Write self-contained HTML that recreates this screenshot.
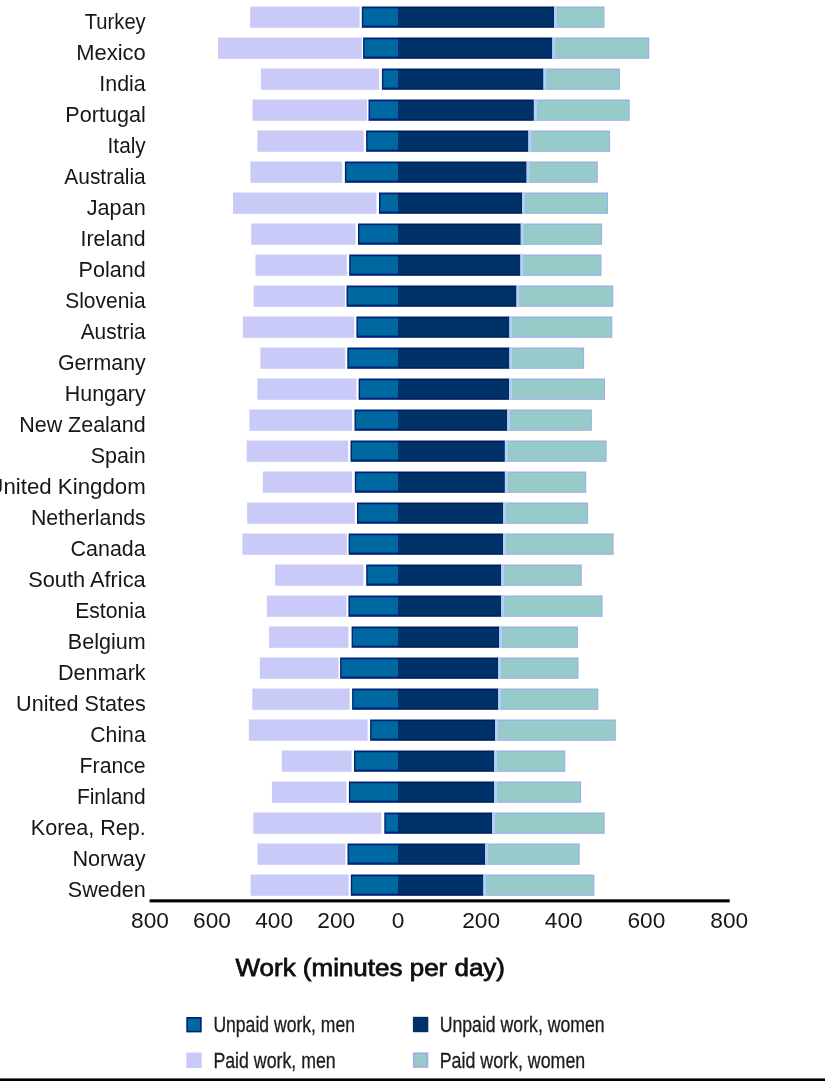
<!DOCTYPE html>
<html lang="en">
<head>
<meta charset="utf-8">
<title>Work (minutes per day)</title>
<style>
html,body{margin:0;padding:0;background:#fff;}
body{width:825px;height:1081px;overflow:hidden;position:relative;font-family:"Liberation Sans",sans-serif;}
svg{position:absolute;left:0;top:0;display:block;}
text{font-family:"Liberation Sans",sans-serif;}
.lab{font-size:21.6px;fill:#171717;text-anchor:end;}
.tick{font-size:22.7px;fill:#171717;text-anchor:middle;}
.ttl{font-size:24.8px;fill:#111;stroke:#111;stroke-width:0.8px;}
.leg{font-size:21.2px;fill:#1c1c1c;stroke:#1c1c1c;stroke-width:0.3px;}
</style>
</head>
<body>
<svg width="825" height="1081" viewBox="0 0 825 1081">
<defs><filter id="soft" x="-20" y="-20" width="865" height="1121" filterUnits="userSpaceOnUse"><feGaussianBlur stdDeviation="0.55"/></filter></defs>
<rect x="-20" y="-20" width="865" height="1121" fill="#ffffff"/>
<g filter="url(#soft)">
<rect x="-20" y="-20" width="865" height="1121" fill="#ffffff"/>

<g>
<rect x="250.2" y="6.5" width="109.4" height="21.3" fill="#cacaf9"/>
<rect x="361.8" y="6.5" width="36.2" height="21.3" fill="#00247a"/>
<rect x="363.2" y="8.3" width="34.8" height="17.3" fill="#0567a0"/>
<rect x="398.0" y="6.5" width="156.0" height="21.3" fill="#001f5e"/>
<rect x="398.0" y="8.1" width="155.4" height="18.1" fill="#00316b"/>
<rect x="554.0" y="6.5" width="50.5" height="21.3" fill="#9dade6"/>
<rect x="554.0" y="6.8" width="3.0" height="20.7" fill="#b2d0f6"/>
<rect x="557.2" y="7.7" width="46.3" height="19.0" fill="#96cbca"/>
<text class="lab" x="145.7" y="28.5" textLength="60.9" lengthAdjust="spacingAndGlyphs">Turkey</text>
</g>
<g>
<rect x="218.0" y="37.5" width="143.8" height="21.3" fill="#cacaf9"/>
<rect x="363.1" y="37.5" width="34.9" height="21.3" fill="#00247a"/>
<rect x="364.5" y="39.3" width="33.5" height="17.3" fill="#0567a0"/>
<rect x="398.0" y="37.5" width="154.4" height="21.3" fill="#001f5e"/>
<rect x="398.0" y="39.1" width="153.8" height="18.1" fill="#00316b"/>
<rect x="552.4" y="37.5" width="96.9" height="21.3" fill="#9dade6"/>
<rect x="552.4" y="37.8" width="3.0" height="20.7" fill="#b2d0f6"/>
<rect x="555.6" y="38.7" width="92.7" height="19.0" fill="#96cbca"/>
<text class="lab" x="145.7" y="59.5" textLength="69.5" lengthAdjust="spacingAndGlyphs">Mexico</text>
</g>
<g>
<rect x="260.9" y="68.5" width="118.3" height="21.3" fill="#cacaf9"/>
<rect x="381.9" y="68.5" width="16.1" height="21.3" fill="#00247a"/>
<rect x="383.3" y="70.3" width="14.7" height="17.3" fill="#0567a0"/>
<rect x="398.0" y="68.5" width="145.6" height="21.3" fill="#001f5e"/>
<rect x="398.0" y="70.1" width="145.0" height="18.1" fill="#00316b"/>
<rect x="543.6" y="68.5" width="76.4" height="21.3" fill="#9dade6"/>
<rect x="543.6" y="68.8" width="3.0" height="20.7" fill="#b2d0f6"/>
<rect x="546.8" y="69.7" width="72.2" height="19.0" fill="#96cbca"/>
<text class="lab" x="145.7" y="90.5" textLength="46.4" lengthAdjust="spacingAndGlyphs">India</text>
</g>
<g>
<rect x="252.6" y="99.5" width="114.3" height="21.3" fill="#cacaf9"/>
<rect x="368.5" y="99.5" width="29.5" height="21.3" fill="#00247a"/>
<rect x="369.9" y="101.3" width="28.1" height="17.3" fill="#0567a0"/>
<rect x="398.0" y="99.5" width="135.9" height="21.3" fill="#001f5e"/>
<rect x="398.0" y="101.1" width="135.3" height="18.1" fill="#00316b"/>
<rect x="533.9" y="99.5" width="95.8" height="21.3" fill="#9dade6"/>
<rect x="533.9" y="99.8" width="3.0" height="20.7" fill="#b2d0f6"/>
<rect x="537.1" y="100.7" width="91.6" height="19.0" fill="#96cbca"/>
<text class="lab" x="145.7" y="121.5" textLength="80.4" lengthAdjust="spacingAndGlyphs">Portugal</text>
</g>
<g>
<rect x="257.4" y="130.5" width="106.3" height="21.3" fill="#cacaf9"/>
<rect x="366.1" y="130.5" width="31.9" height="21.3" fill="#00247a"/>
<rect x="367.5" y="132.3" width="30.5" height="17.3" fill="#0567a0"/>
<rect x="398.0" y="130.5" width="130.5" height="21.3" fill="#001f5e"/>
<rect x="398.0" y="132.1" width="129.9" height="18.1" fill="#00316b"/>
<rect x="528.5" y="130.5" width="81.6" height="21.3" fill="#9dade6"/>
<rect x="528.5" y="130.8" width="3.0" height="20.7" fill="#b2d0f6"/>
<rect x="531.7" y="131.7" width="77.4" height="19.0" fill="#96cbca"/>
<text class="lab" x="145.7" y="152.5" textLength="38.1" lengthAdjust="spacingAndGlyphs">Italy</text>
</g>
<g>
<rect x="250.4" y="161.5" width="91.8" height="21.3" fill="#cacaf9"/>
<rect x="344.9" y="161.5" width="53.1" height="21.3" fill="#00247a"/>
<rect x="346.3" y="163.3" width="51.7" height="17.3" fill="#0567a0"/>
<rect x="398.0" y="161.5" width="128.7" height="21.3" fill="#001f5e"/>
<rect x="398.0" y="163.1" width="128.1" height="18.1" fill="#00316b"/>
<rect x="526.7" y="161.5" width="71.1" height="21.3" fill="#9dade6"/>
<rect x="526.7" y="161.8" width="3.0" height="20.7" fill="#b2d0f6"/>
<rect x="529.9" y="162.7" width="66.9" height="19.0" fill="#96cbca"/>
<text class="lab" x="145.7" y="183.5" textLength="81.4" lengthAdjust="spacingAndGlyphs">Australia</text>
</g>
<g>
<rect x="233.0" y="192.5" width="143.5" height="21.3" fill="#cacaf9"/>
<rect x="379.0" y="192.5" width="19.0" height="21.3" fill="#00247a"/>
<rect x="380.4" y="194.3" width="17.6" height="17.3" fill="#0567a0"/>
<rect x="398.0" y="192.5" width="124.1" height="21.3" fill="#001f5e"/>
<rect x="398.0" y="194.1" width="123.5" height="18.1" fill="#00316b"/>
<rect x="522.1" y="192.5" width="85.9" height="21.3" fill="#9dade6"/>
<rect x="522.1" y="192.8" width="3.0" height="20.7" fill="#b2d0f6"/>
<rect x="525.3" y="193.7" width="81.7" height="19.0" fill="#96cbca"/>
<text class="lab" x="145.7" y="214.5" textLength="58.9" lengthAdjust="spacingAndGlyphs">Japan</text>
</g>
<g>
<rect x="251.2" y="223.5" width="104.4" height="21.3" fill="#cacaf9"/>
<rect x="358.0" y="223.5" width="40.0" height="21.3" fill="#00247a"/>
<rect x="359.4" y="225.3" width="38.6" height="17.3" fill="#0567a0"/>
<rect x="398.0" y="223.5" width="122.8" height="21.3" fill="#001f5e"/>
<rect x="398.0" y="225.1" width="122.2" height="18.1" fill="#00316b"/>
<rect x="520.8" y="223.5" width="81.3" height="21.3" fill="#9dade6"/>
<rect x="520.8" y="223.8" width="3.0" height="20.7" fill="#b2d0f6"/>
<rect x="524.0" y="224.7" width="77.1" height="19.0" fill="#96cbca"/>
<text class="lab" x="145.7" y="245.5" textLength="65.1" lengthAdjust="spacingAndGlyphs">Ireland</text>
</g>
<g>
<rect x="255.5" y="254.5" width="91.3" height="21.3" fill="#cacaf9"/>
<rect x="349.2" y="254.5" width="48.8" height="21.3" fill="#00247a"/>
<rect x="350.6" y="256.3" width="47.4" height="17.3" fill="#0567a0"/>
<rect x="398.0" y="254.5" width="122.5" height="21.3" fill="#001f5e"/>
<rect x="398.0" y="256.1" width="121.9" height="18.1" fill="#00316b"/>
<rect x="520.5" y="254.5" width="81.0" height="21.3" fill="#9dade6"/>
<rect x="520.5" y="254.8" width="3.0" height="20.7" fill="#b2d0f6"/>
<rect x="523.7" y="255.7" width="76.8" height="19.0" fill="#96cbca"/>
<text class="lab" x="145.7" y="276.5" textLength="67.1" lengthAdjust="spacingAndGlyphs">Poland</text>
</g>
<g>
<rect x="253.7" y="285.5" width="91.2" height="21.3" fill="#cacaf9"/>
<rect x="346.5" y="285.5" width="51.5" height="21.3" fill="#00247a"/>
<rect x="347.9" y="287.3" width="50.1" height="17.3" fill="#0567a0"/>
<rect x="398.0" y="285.5" width="118.6" height="21.3" fill="#001f5e"/>
<rect x="398.0" y="287.1" width="118.0" height="18.1" fill="#00316b"/>
<rect x="516.6" y="285.5" width="96.7" height="21.3" fill="#9dade6"/>
<rect x="516.6" y="285.8" width="3.0" height="20.7" fill="#b2d0f6"/>
<rect x="519.8" y="286.7" width="92.5" height="19.0" fill="#96cbca"/>
<text class="lab" x="145.7" y="307.5" textLength="80.5" lengthAdjust="spacingAndGlyphs">Slovenia</text>
</g>
<g>
<rect x="242.9" y="316.5" width="111.4" height="21.3" fill="#cacaf9"/>
<rect x="356.4" y="316.5" width="41.6" height="21.3" fill="#00247a"/>
<rect x="357.8" y="318.3" width="40.2" height="17.3" fill="#0567a0"/>
<rect x="398.0" y="316.5" width="111.5" height="21.3" fill="#001f5e"/>
<rect x="398.0" y="318.1" width="110.9" height="18.1" fill="#00316b"/>
<rect x="509.5" y="316.5" width="102.8" height="21.3" fill="#9dade6"/>
<rect x="509.5" y="316.8" width="3.0" height="20.7" fill="#b2d0f6"/>
<rect x="512.7" y="317.7" width="98.6" height="19.0" fill="#96cbca"/>
<text class="lab" x="145.7" y="338.5" textLength="65.0" lengthAdjust="spacingAndGlyphs">Austria</text>
</g>
<g>
<rect x="260.4" y="347.5" width="84.8" height="21.3" fill="#cacaf9"/>
<rect x="347.3" y="347.5" width="50.7" height="21.3" fill="#00247a"/>
<rect x="348.7" y="349.3" width="49.3" height="17.3" fill="#0567a0"/>
<rect x="398.0" y="347.5" width="111.5" height="21.3" fill="#001f5e"/>
<rect x="398.0" y="349.1" width="110.9" height="18.1" fill="#00316b"/>
<rect x="509.5" y="347.5" width="74.6" height="21.3" fill="#9dade6"/>
<rect x="509.5" y="347.8" width="3.0" height="20.7" fill="#b2d0f6"/>
<rect x="512.7" y="348.7" width="70.4" height="19.0" fill="#96cbca"/>
<text class="lab" x="145.7" y="369.5" textLength="87.8" lengthAdjust="spacingAndGlyphs">Germany</text>
</g>
<g>
<rect x="257.4" y="378.5" width="99.0" height="21.3" fill="#cacaf9"/>
<rect x="358.6" y="378.5" width="39.4" height="21.3" fill="#00247a"/>
<rect x="360.0" y="380.3" width="38.0" height="17.3" fill="#0567a0"/>
<rect x="398.0" y="378.5" width="111.0" height="21.3" fill="#001f5e"/>
<rect x="398.0" y="380.1" width="110.4" height="18.1" fill="#00316b"/>
<rect x="509.0" y="378.5" width="96.0" height="21.3" fill="#9dade6"/>
<rect x="509.0" y="378.8" width="3.0" height="20.7" fill="#b2d0f6"/>
<rect x="512.2" y="379.7" width="91.8" height="19.0" fill="#96cbca"/>
<text class="lab" x="145.7" y="400.5" textLength="80.9" lengthAdjust="spacingAndGlyphs">Hungary</text>
</g>
<g>
<rect x="249.4" y="409.5" width="102.7" height="21.3" fill="#cacaf9"/>
<rect x="354.5" y="409.5" width="43.5" height="21.3" fill="#00247a"/>
<rect x="355.9" y="411.3" width="42.1" height="17.3" fill="#0567a0"/>
<rect x="398.0" y="409.5" width="109.3" height="21.3" fill="#001f5e"/>
<rect x="398.0" y="411.1" width="108.7" height="18.1" fill="#00316b"/>
<rect x="507.3" y="409.5" width="84.6" height="21.3" fill="#9dade6"/>
<rect x="507.3" y="409.8" width="3.0" height="20.7" fill="#b2d0f6"/>
<rect x="510.5" y="410.7" width="80.4" height="19.0" fill="#96cbca"/>
<text class="lab" x="145.7" y="431.5" textLength="126.5" lengthAdjust="spacingAndGlyphs">New Zealand</text>
</g>
<g>
<rect x="246.7" y="440.5" width="101.4" height="21.3" fill="#cacaf9"/>
<rect x="350.5" y="440.5" width="47.5" height="21.3" fill="#00247a"/>
<rect x="351.9" y="442.3" width="46.1" height="17.3" fill="#0567a0"/>
<rect x="398.0" y="440.5" width="106.9" height="21.3" fill="#001f5e"/>
<rect x="398.0" y="442.1" width="106.3" height="18.1" fill="#00316b"/>
<rect x="504.9" y="440.5" width="101.7" height="21.3" fill="#9dade6"/>
<rect x="504.9" y="440.8" width="3.0" height="20.7" fill="#b2d0f6"/>
<rect x="508.1" y="441.7" width="97.5" height="19.0" fill="#96cbca"/>
<text class="lab" x="145.7" y="462.5" textLength="55.0" lengthAdjust="spacingAndGlyphs">Spain</text>
</g>
<g>
<rect x="262.8" y="471.5" width="89.3" height="21.3" fill="#cacaf9"/>
<rect x="354.8" y="471.5" width="43.2" height="21.3" fill="#00247a"/>
<rect x="356.2" y="473.3" width="41.8" height="17.3" fill="#0567a0"/>
<rect x="398.0" y="471.5" width="106.9" height="21.3" fill="#001f5e"/>
<rect x="398.0" y="473.1" width="106.3" height="18.1" fill="#00316b"/>
<rect x="504.9" y="471.5" width="81.3" height="21.3" fill="#9dade6"/>
<rect x="504.9" y="471.8" width="3.0" height="20.7" fill="#b2d0f6"/>
<rect x="508.1" y="472.7" width="77.1" height="19.0" fill="#96cbca"/>
<text class="lab" x="145.7" y="493.5" textLength="158.4" lengthAdjust="spacingAndGlyphs">United Kingdom</text>
</g>
<g>
<rect x="247.2" y="502.5" width="107.6" height="21.3" fill="#cacaf9"/>
<rect x="357.0" y="502.5" width="41.0" height="21.3" fill="#00247a"/>
<rect x="358.4" y="504.3" width="39.6" height="17.3" fill="#0567a0"/>
<rect x="398.0" y="502.5" width="105.3" height="21.3" fill="#001f5e"/>
<rect x="398.0" y="504.1" width="104.7" height="18.1" fill="#00316b"/>
<rect x="503.3" y="502.5" width="84.8" height="21.3" fill="#9dade6"/>
<rect x="503.3" y="502.8" width="3.0" height="20.7" fill="#b2d0f6"/>
<rect x="506.5" y="503.7" width="80.6" height="19.0" fill="#96cbca"/>
<text class="lab" x="145.7" y="524.5" textLength="114.7" lengthAdjust="spacingAndGlyphs">Netherlands</text>
</g>
<g>
<rect x="242.4" y="533.5" width="104.4" height="21.3" fill="#cacaf9"/>
<rect x="348.6" y="533.5" width="49.4" height="21.3" fill="#00247a"/>
<rect x="350.0" y="535.3" width="48.0" height="17.3" fill="#0567a0"/>
<rect x="398.0" y="533.5" width="105.1" height="21.3" fill="#001f5e"/>
<rect x="398.0" y="535.1" width="104.5" height="18.1" fill="#00316b"/>
<rect x="503.1" y="533.5" width="110.5" height="21.3" fill="#9dade6"/>
<rect x="503.1" y="533.8" width="3.0" height="20.7" fill="#b2d0f6"/>
<rect x="506.3" y="534.7" width="106.3" height="19.0" fill="#96cbca"/>
<text class="lab" x="145.7" y="555.5" textLength="75.1" lengthAdjust="spacingAndGlyphs">Canada</text>
</g>
<g>
<rect x="275.1" y="564.5" width="88.3" height="21.3" fill="#cacaf9"/>
<rect x="366.2" y="564.5" width="31.8" height="21.3" fill="#00247a"/>
<rect x="367.6" y="566.3" width="30.4" height="17.3" fill="#0567a0"/>
<rect x="398.0" y="564.5" width="103.2" height="21.3" fill="#001f5e"/>
<rect x="398.0" y="566.1" width="102.6" height="18.1" fill="#00316b"/>
<rect x="501.2" y="564.5" width="80.6" height="21.3" fill="#9dade6"/>
<rect x="501.2" y="564.8" width="3.0" height="20.7" fill="#b2d0f6"/>
<rect x="504.4" y="565.7" width="76.4" height="19.0" fill="#96cbca"/>
<text class="lab" x="145.7" y="586.5" textLength="117.5" lengthAdjust="spacingAndGlyphs">South Africa</text>
</g>
<g>
<rect x="266.8" y="595.5" width="79.7" height="21.3" fill="#cacaf9"/>
<rect x="348.4" y="595.5" width="49.6" height="21.3" fill="#00247a"/>
<rect x="349.8" y="597.3" width="48.2" height="17.3" fill="#0567a0"/>
<rect x="398.0" y="595.5" width="103.2" height="21.3" fill="#001f5e"/>
<rect x="398.0" y="597.1" width="102.6" height="18.1" fill="#00316b"/>
<rect x="501.2" y="595.5" width="101.4" height="21.3" fill="#9dade6"/>
<rect x="501.2" y="595.8" width="3.0" height="20.7" fill="#b2d0f6"/>
<rect x="504.4" y="596.7" width="97.2" height="19.0" fill="#96cbca"/>
<text class="lab" x="145.7" y="617.5" textLength="70.5" lengthAdjust="spacingAndGlyphs">Estonia</text>
</g>
<g>
<rect x="269.0" y="626.5" width="79.4" height="21.3" fill="#cacaf9"/>
<rect x="351.6" y="626.5" width="46.4" height="21.3" fill="#00247a"/>
<rect x="353.0" y="628.3" width="45.0" height="17.3" fill="#0567a0"/>
<rect x="398.0" y="626.5" width="101.3" height="21.3" fill="#001f5e"/>
<rect x="398.0" y="628.1" width="100.7" height="18.1" fill="#00316b"/>
<rect x="499.3" y="626.5" width="78.6" height="21.3" fill="#9dade6"/>
<rect x="499.3" y="626.8" width="3.0" height="20.7" fill="#b2d0f6"/>
<rect x="502.5" y="627.7" width="74.4" height="19.0" fill="#96cbca"/>
<text class="lab" x="145.7" y="648.5" textLength="77.9" lengthAdjust="spacingAndGlyphs">Belgium</text>
</g>
<g>
<rect x="259.8" y="657.5" width="78.7" height="21.3" fill="#cacaf9"/>
<rect x="340.1" y="657.5" width="57.9" height="21.3" fill="#00247a"/>
<rect x="341.5" y="659.3" width="56.5" height="17.3" fill="#0567a0"/>
<rect x="398.0" y="657.5" width="100.2" height="21.3" fill="#001f5e"/>
<rect x="398.0" y="659.1" width="99.6" height="18.1" fill="#00316b"/>
<rect x="498.2" y="657.5" width="80.3" height="21.3" fill="#9dade6"/>
<rect x="498.2" y="657.8" width="3.0" height="20.7" fill="#b2d0f6"/>
<rect x="501.4" y="658.7" width="76.1" height="19.0" fill="#96cbca"/>
<text class="lab" x="145.7" y="679.5" textLength="87.8" lengthAdjust="spacingAndGlyphs">Denmark</text>
</g>
<g>
<rect x="252.3" y="688.5" width="97.4" height="21.3" fill="#cacaf9"/>
<rect x="352.1" y="688.5" width="45.9" height="21.3" fill="#00247a"/>
<rect x="353.5" y="690.3" width="44.5" height="17.3" fill="#0567a0"/>
<rect x="398.0" y="688.5" width="100.2" height="21.3" fill="#001f5e"/>
<rect x="398.0" y="690.1" width="99.6" height="18.1" fill="#00316b"/>
<rect x="498.2" y="688.5" width="100.1" height="21.3" fill="#9dade6"/>
<rect x="498.2" y="688.8" width="3.0" height="20.7" fill="#b2d0f6"/>
<rect x="501.4" y="689.7" width="95.9" height="19.0" fill="#96cbca"/>
<text class="lab" x="145.7" y="710.5" textLength="129.6" lengthAdjust="spacingAndGlyphs">United States</text>
</g>
<g>
<rect x="248.8" y="719.5" width="118.9" height="21.3" fill="#cacaf9"/>
<rect x="370.1" y="719.5" width="27.9" height="21.3" fill="#00247a"/>
<rect x="371.5" y="721.3" width="26.5" height="17.3" fill="#0567a0"/>
<rect x="398.0" y="719.5" width="97.0" height="21.3" fill="#001f5e"/>
<rect x="398.0" y="721.1" width="96.4" height="18.1" fill="#00316b"/>
<rect x="495.0" y="719.5" width="120.8" height="21.3" fill="#9dade6"/>
<rect x="495.0" y="719.8" width="3.0" height="20.7" fill="#b2d0f6"/>
<rect x="498.2" y="720.7" width="116.6" height="19.0" fill="#96cbca"/>
<text class="lab" x="145.7" y="741.5" textLength="55.4" lengthAdjust="spacingAndGlyphs">China</text>
</g>
<g>
<rect x="281.8" y="750.5" width="69.8" height="21.3" fill="#cacaf9"/>
<rect x="354.0" y="750.5" width="44.0" height="21.3" fill="#00247a"/>
<rect x="355.4" y="752.3" width="42.6" height="17.3" fill="#0567a0"/>
<rect x="398.0" y="750.5" width="96.2" height="21.3" fill="#001f5e"/>
<rect x="398.0" y="752.1" width="95.6" height="18.1" fill="#00316b"/>
<rect x="494.2" y="750.5" width="71.1" height="21.3" fill="#9dade6"/>
<rect x="494.2" y="750.8" width="3.0" height="20.7" fill="#b2d0f6"/>
<rect x="497.4" y="751.7" width="66.9" height="19.0" fill="#96cbca"/>
<text class="lab" x="145.7" y="772.5" textLength="66.1" lengthAdjust="spacingAndGlyphs">France</text>
</g>
<g>
<rect x="271.9" y="781.5" width="74.6" height="21.3" fill="#cacaf9"/>
<rect x="348.9" y="781.5" width="49.1" height="21.3" fill="#00247a"/>
<rect x="350.3" y="783.3" width="47.7" height="17.3" fill="#0567a0"/>
<rect x="398.0" y="781.5" width="96.2" height="21.3" fill="#001f5e"/>
<rect x="398.0" y="783.1" width="95.6" height="18.1" fill="#00316b"/>
<rect x="494.2" y="781.5" width="86.9" height="21.3" fill="#9dade6"/>
<rect x="494.2" y="781.8" width="3.0" height="20.7" fill="#b2d0f6"/>
<rect x="497.4" y="782.7" width="82.7" height="19.0" fill="#96cbca"/>
<text class="lab" x="145.7" y="803.5" textLength="68.8" lengthAdjust="spacingAndGlyphs">Finland</text>
</g>
<g>
<rect x="253.3" y="812.5" width="128.0" height="21.3" fill="#cacaf9"/>
<rect x="384.3" y="812.5" width="13.7" height="21.3" fill="#00247a"/>
<rect x="385.7" y="814.3" width="12.3" height="17.3" fill="#0567a0"/>
<rect x="398.0" y="812.5" width="94.3" height="21.3" fill="#001f5e"/>
<rect x="398.0" y="814.1" width="93.7" height="18.1" fill="#00316b"/>
<rect x="492.3" y="812.5" width="112.4" height="21.3" fill="#9dade6"/>
<rect x="492.3" y="812.8" width="3.0" height="20.7" fill="#b2d0f6"/>
<rect x="495.5" y="813.7" width="108.2" height="19.0" fill="#96cbca"/>
<text class="lab" x="145.7" y="834.5" textLength="114.9" lengthAdjust="spacingAndGlyphs">Korea, Rep.</text>
</g>
<g>
<rect x="257.5" y="843.5" width="87.9" height="21.3" fill="#cacaf9"/>
<rect x="347.5" y="843.5" width="50.5" height="21.3" fill="#00247a"/>
<rect x="348.9" y="845.3" width="49.1" height="17.3" fill="#0567a0"/>
<rect x="398.0" y="843.5" width="87.2" height="21.3" fill="#001f5e"/>
<rect x="398.0" y="845.1" width="86.6" height="18.1" fill="#00316b"/>
<rect x="485.2" y="843.5" width="94.5" height="21.3" fill="#9dade6"/>
<rect x="485.2" y="843.8" width="3.0" height="20.7" fill="#b2d0f6"/>
<rect x="488.4" y="844.7" width="90.3" height="19.0" fill="#96cbca"/>
<text class="lab" x="145.7" y="865.5" textLength="73.3" lengthAdjust="spacingAndGlyphs">Norway</text>
</g>
<g>
<rect x="250.6" y="874.5" width="98.0" height="21.3" fill="#cacaf9"/>
<rect x="350.8" y="874.5" width="47.2" height="21.3" fill="#00247a"/>
<rect x="352.2" y="876.3" width="45.8" height="17.3" fill="#0567a0"/>
<rect x="398.0" y="874.5" width="85.5" height="21.3" fill="#001f5e"/>
<rect x="398.0" y="876.1" width="84.9" height="18.1" fill="#00316b"/>
<rect x="483.5" y="874.5" width="110.9" height="21.3" fill="#9dade6"/>
<rect x="483.5" y="874.8" width="3.0" height="20.7" fill="#b2d0f6"/>
<rect x="486.7" y="875.7" width="106.7" height="19.0" fill="#96cbca"/>
<text class="lab" x="145.7" y="896.5" textLength="77.9" lengthAdjust="spacingAndGlyphs">Sweden</text>
</g>
<rect x="149.6" y="899.3" width="580.1" height="3.1" fill="#000"/>
<text class="tick" x="150.0" y="927.8">800</text>
<text class="tick" x="212.0" y="927.8">600</text>
<text class="tick" x="274.1" y="927.8">400</text>
<text class="tick" x="336.2" y="927.8">200</text>
<text class="tick" x="398.0" y="927.8">0</text>
<text class="tick" x="481.1" y="927.8">200</text>
<text class="tick" x="563.8" y="927.8">400</text>
<text class="tick" x="646.4" y="927.8">600</text>
<text class="tick" x="729.3" y="927.8">800</text>
<text class="ttl" x="235.5" y="976.0" textLength="269.5" lengthAdjust="spacingAndGlyphs">Work (minutes per day)</text>
<rect x="186.3" y="1017.0" width="15.4" height="15.4" fill="#00247a"/>
<rect x="188.0" y="1018.7" width="12" height="12" fill="#0567a0"/>
<rect x="412.9" y="1016.8" width="15.4" height="15.4" fill="#00316b"/>
<rect x="414.6" y="1018.5" width="12" height="12" fill="#00316b"/>
<rect x="186.3" y="1052.6" width="15.4" height="15.4" fill="#cacaf9"/>
<rect x="188.0" y="1054.3" width="12" height="12" fill="#cacaf9"/>
<rect x="412.9" y="1052.4" width="15.4" height="15.4" fill="#9dade6"/>
<rect x="414.6" y="1054.1" width="12" height="12" fill="#96cbca"/>
<text class="leg" x="213.4" y="1032.4" textLength="141.6" lengthAdjust="spacingAndGlyphs">Unpaid work, men</text>
<text class="leg" x="439.7" y="1032.4" textLength="165" lengthAdjust="spacingAndGlyphs">Unpaid work, women</text>
<text class="leg" x="213.4" y="1067.7" textLength="122.3" lengthAdjust="spacingAndGlyphs">Paid work, men</text>
<text class="leg" x="439.7" y="1067.7" textLength="145.6" lengthAdjust="spacingAndGlyphs">Paid work, women</text>
<rect x="-20" y="1078.4" width="865" height="20" fill="#000"/>
</g>
</svg>
</body>
</html>
